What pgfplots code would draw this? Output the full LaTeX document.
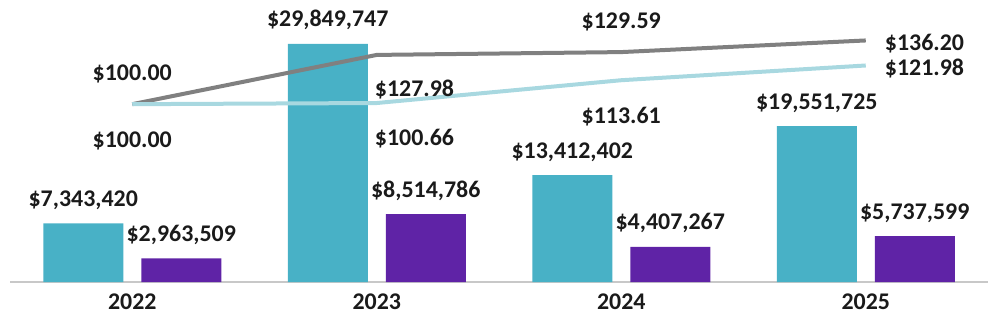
\documentclass[border=0pt]{standalone}
\usepackage{pgfplots}
\usepackage{pgfplotstable}
\usepackage{fontspec}
\setmainfont{Carlito}
\pgfplotsset{compat=1.18}
\definecolor{tealbar}{HTML}{48B1C6}
\definecolor{purplebar}{HTML}{5F23A6}
\definecolor{grayline}{HTML}{808080}
\definecolor{blueline}{HTML}{A8D8E0}
\definecolor{axisgray}{HTML}{C8C8C8}
\definecolor{txt}{HTML}{1A1A1A}

\pgfplotstableread{
x y lab
0 7343420 {\$7,343,420}
1 29849747 {\$29,849,747}
2 13412402 {\$13,412,402}
3 19551725 {\$19,551,725}
}\tealdata
\pgfplotstableread{
x y lab
0 2963509 {\$2,963,509}
1 8514786 {\$8,514,786}
2 4407267 {\$4,407,267}
3 5737599 {\$5,737,599}
}\purpledata
\pgfplotstableread{
x y
0 100.00
1 127.98
2 129.59
3 136.20
}\graydata
\pgfplotstableread{
x y
0 100.00
1 100.66
2 113.61
3 121.98
}\bluedata

\begin{document}
\begin{tikzpicture}
\pgfplotsset{every axis/.append style={font=\fontsize{24}{28}\selectfont\bfseries, text=txt}}
\begin{axis}[
  name=main,
  scale only axis,
  width=978bp, height=272bp,
  xmin=-0.5, xmax=3.5,
  ymin=0, ymax=34.1e6,
  ybar, bar width=80bp,
  axis x line*=bottom,
  hide y axis,
  axis line style={draw=axisgray, line width=2bp},
  xtick={0,1,2,3},
  xticklabels={2022,2023,2024,2025},
  xtick style={draw=none},
  xticklabel style={anchor=base, yshift=-23bp, inner sep=0pt},
  clip=false,
  nodes near coords,
  point meta=explicit symbolic,
  nodes near coords style={anchor=base, yshift=17bp, inner sep=0pt, text=txt},
]
\addplot[fill=tealbar, draw=none, bar shift=-49bp] table[x=x, y=y, meta=lab] {\tealdata};
\addplot[fill=purplebar, draw=none, bar shift=49bp] table[x=x, y=y, meta=lab] {\purpledata};
\end{axis}
\begin{axis}[
  scale only axis,
  width=978bp, height=272bp,
  xmin=-0.5, xmax=3.5,
  ymin=-1, ymax=153.5,
  hide x axis, hide y axis,
  clip=false,
]
\addplot[grayline, line width=4bp, line join=round, mark=none] table[x=x, y=y] {\graydata};
\addplot[blueline, line width=4bp, line join=round, mark=none] table[x=x, y=y] {\bluedata};
% labels for the lines
\addplot[draw=none, mark=none, nodes near coords, point meta=explicit symbolic,
  nodes near coords style={anchor=base, yshift=24bp, inner sep=0pt, text=txt}]
  coordinates {(0,100.00) [\$100.00] (2,129.59) [\$129.59]};
\addplot[draw=none, mark=none, nodes near coords, point meta=explicit symbolic,
  nodes near coords style={anchor=base, yshift=-43bp, inner sep=0pt, text=txt}]
  coordinates {(0,100.00) [\$100.00] (2,113.61) [\$113.61]};
\addplot[draw=none, mark=none, nodes near coords, point meta=explicit symbolic,
  nodes near coords style={anchor=base west, xshift=-2bp, yshift=-42bp, inner sep=0pt, text=txt}]
  coordinates {(1,127.98) [\$127.98] (1,100.66) [\$100.66]};
\addplot[draw=none, mark=none, nodes near coords, point meta=explicit symbolic,
  nodes near coords style={anchor=base west, xshift=19bp, yshift=-10bp, inner sep=0pt, text=txt}]
  coordinates {(3,136.20) [\$136.20] (3,121.98) [\$121.98]};
\end{axis}
\pgfresetboundingbox
\path ([shift={(-10bp,-44bp)}]main.south west) rectangle ([shift={(10bp,10bp)}]main.north east);
\end{tikzpicture}
\end{document}
